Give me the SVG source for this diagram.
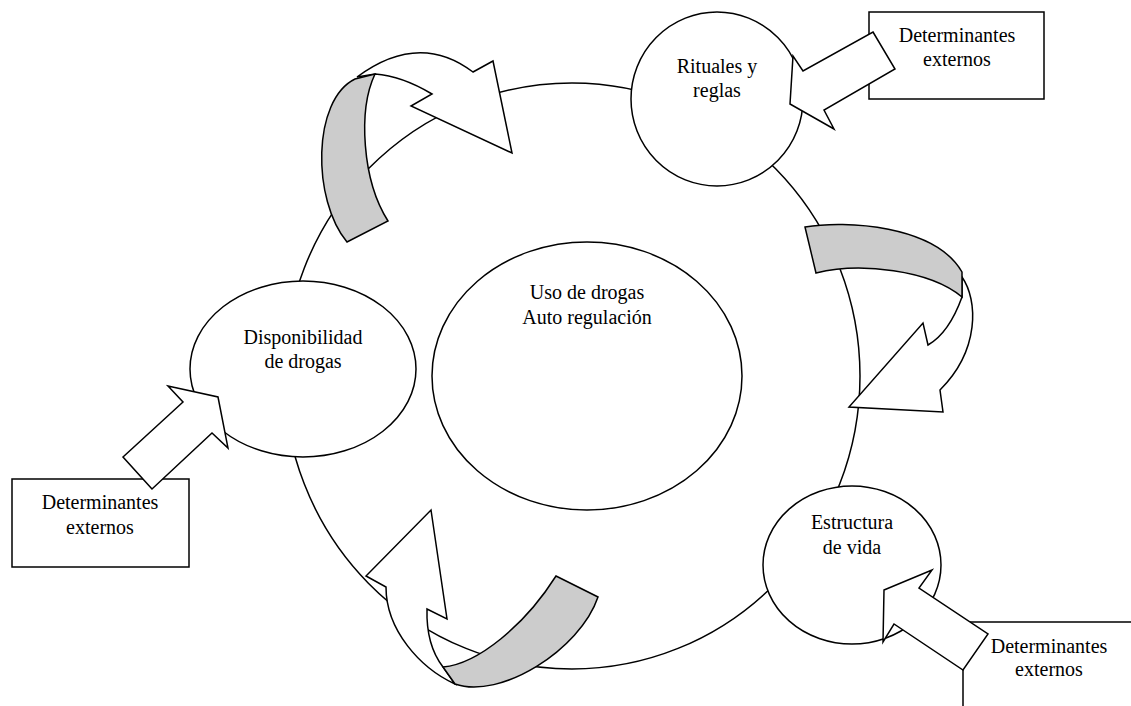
<svg xmlns="http://www.w3.org/2000/svg" width="1131" height="706" viewBox="0 0 1131 706">
<style>
.s{fill:#fff;stroke:#000;stroke-width:1.5;stroke-linejoin:miter}
.g{fill:#ccc;stroke:#000;stroke-width:1.5}
.n{fill:none;stroke:#000;stroke-width:1.5}
text{font-family:"Liberation Serif","Times New Roman",serif;font-size:20px;fill:#000;text-anchor:middle}
</style>
<rect width="1131" height="706" fill="#fff"/>
<g id="cycle"><ellipse class="n" cx="572" cy="376" rx="288" ry="293"/></g>
<g id="center"><ellipse class="s" cx="587" cy="376" rx="155" ry="134"/><text x="587" y="299">Uso de drogas</text><text x="587" y="324">Auto regulación</text></g>
<g id="rituales"><ellipse class="s" cx="717" cy="99" rx="86" ry="87"/><text x="717" y="73">Rituales y</text><text x="717" y="97">reglas</text></g>
<g id="disponibilidad"><ellipse class="s" cx="303" cy="369" rx="113" ry="88"/><text x="303" y="344">Disponibilidad</text><text x="303" y="368">de drogas</text></g>
<g id="estructura"><ellipse class="s" cx="852" cy="565" rx="89" ry="79"/><text x="852" y="529">Estructura</text><text x="852" y="554">de vida</text></g>
<g id="det-top"><rect class="s" x="869" y="12" width="175" height="87"/><text x="957" y="42">Determinantes</text><text x="957" y="66">externos</text></g>
<g id="det-left"><rect class="s" x="12" y="479" width="177" height="88"/><text x="100" y="509">Determinantes</text><text x="100" y="534">externos</text></g>
<g id="det-bottom"><path class="n" d="M969,622 H1131 M963,670 V706"/><text x="1049" y="653">Determinantes</text><text x="1049" y="676">externos</text></g>
<g id="connectors">
<polygon class="s" points="873,32 895,69 824,110 834,129 790,104 793,56 803,71"/>
<polygon class="s" points="152,489 123,457 183,402 168,386 218,397 228,448 212,433"/>
<polygon class="s" points="884,590 932,570 919,588 988,634 963,670 894,624 883,642"/>
<path class="s" d="M357,77 Q419,31 473,72 L493,61 L512,153 L411,106 L432,94 Q402,76 375,74 Z"/>
<path class="g" d="M355,79 C312,100 312,200 347,242 L388,221 C362,180 358,110 375,74 Z"/>
<path class="s" d="M962,277 C978,300 980,350 940,390 L943,412 L849,407 L923,323 L928,345 Q949,333 962,297 Z"/>
<path class="g" d="M805,227 C845,220 935,225 962,272 L962,297 C930,270 860,262 816,273 Z"/>
<path class="s" d="M431,510 L447,619 L427,609 Q426,645 443,667 L455,684 C420,668 386,630 386,587 L366,576 Z"/>
<path class="g" d="M556,576 L598,597 C580,650 500,700 455,684 L443,667 C478,664 525,625 556,576 Z"/>
</g>
</svg>
